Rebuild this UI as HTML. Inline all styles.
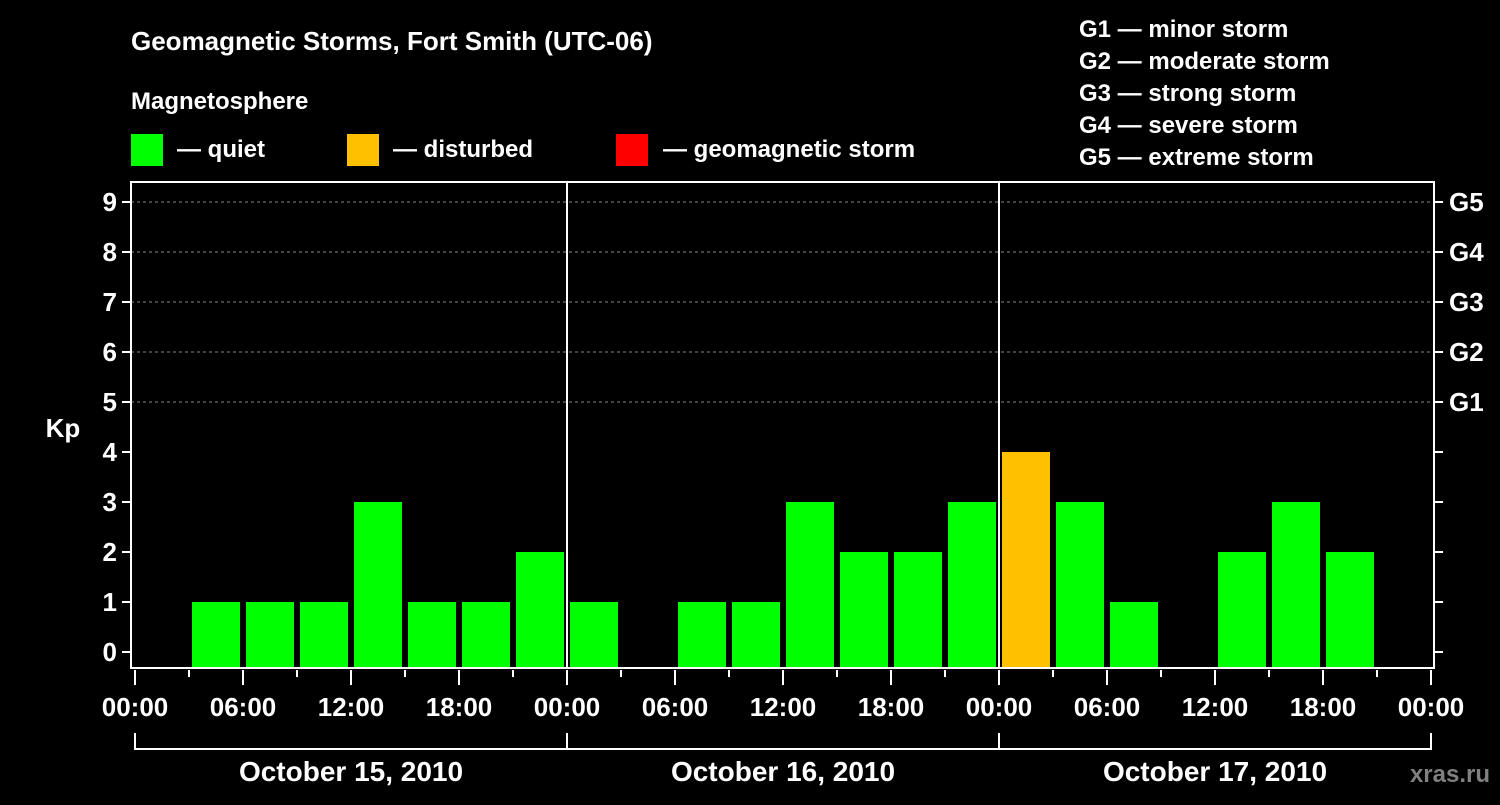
<!DOCTYPE html>
<html><head><meta charset="utf-8"><style>
body{margin:0;background:#000;width:1500px;height:800px;overflow:hidden}
svg text{font-family:"Liberation Sans",sans-serif;font-weight:bold;fill:#fff}
</style></head><body>
<svg id="c" width="1500" height="800" xmlns="http://www.w3.org/2000/svg">
<text x="131" y="50" font-size="26">Geomagnetic Storms, Fort Smith (UTC-06)</text>
<text x="131" y="109" font-size="24">Magnetosphere</text>
<g><rect x="131" y="134" width="32" height="32" fill="#00ff00"/><text x="177" y="157" font-size="24">— quiet</text></g>
<g><rect x="347" y="134" width="32" height="32" fill="#ffc000"/><text x="393" y="157" font-size="24">— disturbed</text></g>
<g><rect x="616" y="134" width="32" height="32" fill="#ff0000"/><text x="663" y="157" font-size="24">— geomagnetic storm</text></g>
<g font-size="24">
<text x="1079" y="37">G1 — minor storm</text>
<text x="1079" y="69">G2 — moderate storm</text>
<text x="1079" y="101">G3 — strong storm</text>
<text x="1079" y="133">G4 — severe storm</text>
<text x="1079" y="165">G5 — extreme storm</text>
</g>
<g id="plot"></g>
<text x="63" y="437" font-size="26" text-anchor="middle">Kp</text>
<text x="1490" y="782" font-size="24" text-anchor="end" fill="#888" style="fill:#808080">xras.ru</text>
</svg>
<script>
const kpValues=[0,1,1,1,3,1,1,2, 1,0,1,1,3,2,2,3, 4,3,1,0,2,3,2,0];
const dayLabels=["October 15, 2010","October 16, 2010","October 17, 2010"];
const hourLabels=["00:00","06:00","12:00","18:00"];
const yTicks=[0,1,2,3,4,5,6,7,8,9];
const gLabels=["G1","G2","G3","G4","G5"];
const NS="http://www.w3.org/2000/svg";
const g=document.getElementById('plot');
const X0=135,DAYW=432,TOP=182,BOT=668,LEFT=131,RIGHT=1434;
const xH=h=>X0+h*DAYW/24;
const yK=v=>652-50*v;
function mk(t,a,p){const e=document.createElementNS(NS,t);for(const k in a)e.setAttribute(k,a[k]);(p||g).appendChild(e);return e;}
// gridlines
for(let v=5;v<=9;v++){const l=mk('line',{x1:LEFT,x2:RIGHT,y1:yK(v),y2:yK(v),stroke:'#888','stroke-dasharray':'3,3','stroke-width':1});

}
// bars
kpValues.forEach((v,i)=>{if(v<=0)return;
const col=v<4?'#00ff00':(v<5?'#ffc000':'#ff0000');
const r=mk('rect',{x:xH(i*3)+3,y:yK(v),width:DAYW/8-6,height:BOT-yK(v),fill:col});

});
// day separators
for(let d=1;d<3;d++){const l=mk('line',{x1:xH(d*24),x2:xH(d*24),y1:TOP,y2:BOT,stroke:'#fff','stroke-width':2});

}
// frame
const f=mk('rect',{x:LEFT,y:TOP,width:RIGHT-LEFT,height:BOT-TOP,fill:'none',stroke:'#fff','stroke-width':2});


// y ticks
yTicks.forEach(v=>{const y=yK(v);
mk('line',{x1:LEFT-9,x2:LEFT,y1:y,y2:y,stroke:'#fff','stroke-width':2});
mk('line',{x1:RIGHT,x2:RIGHT+9,y1:y,y2:y,stroke:'#fff','stroke-width':2});
const t=mk('text',{x:117,y:y+9,'font-size':26,'text-anchor':'end'});t.textContent=v;

});
gLabels.forEach((s,i)=>{const t=mk('text',{x:1449,y:yK(5+i)+9,'font-size':26});t.textContent=s;

});
// x ticks
for(let h=0;h<=72;h+=3){const maj=h%6===0;
mk('line',{x1:xH(h),x2:xH(h),y1:BOT+2,y2:BOT+(maj?17:9),stroke:'#fff','stroke-width':2});
if(maj){const t=mk('text',{x:xH(h),y:716,'font-size':26,'text-anchor':'middle'});t.textContent=hourLabels[(h/6)%4];

}}
// day brackets
mk('line',{x1:xH(0),x2:xH(72),y1:749,y2:749,stroke:'#fff','stroke-width':2});
for(let d=0;d<=3;d++)mk('line',{x1:xH(d*24),x2:xH(d*24),y1:733,y2:750,stroke:'#fff','stroke-width':2});
dayLabels.forEach((s,d)=>{const t=mk('text',{x:xH(d*24+12),y:781,'font-size':28,'text-anchor':'middle'});t.textContent=s;

});
</script>
</body></html>
